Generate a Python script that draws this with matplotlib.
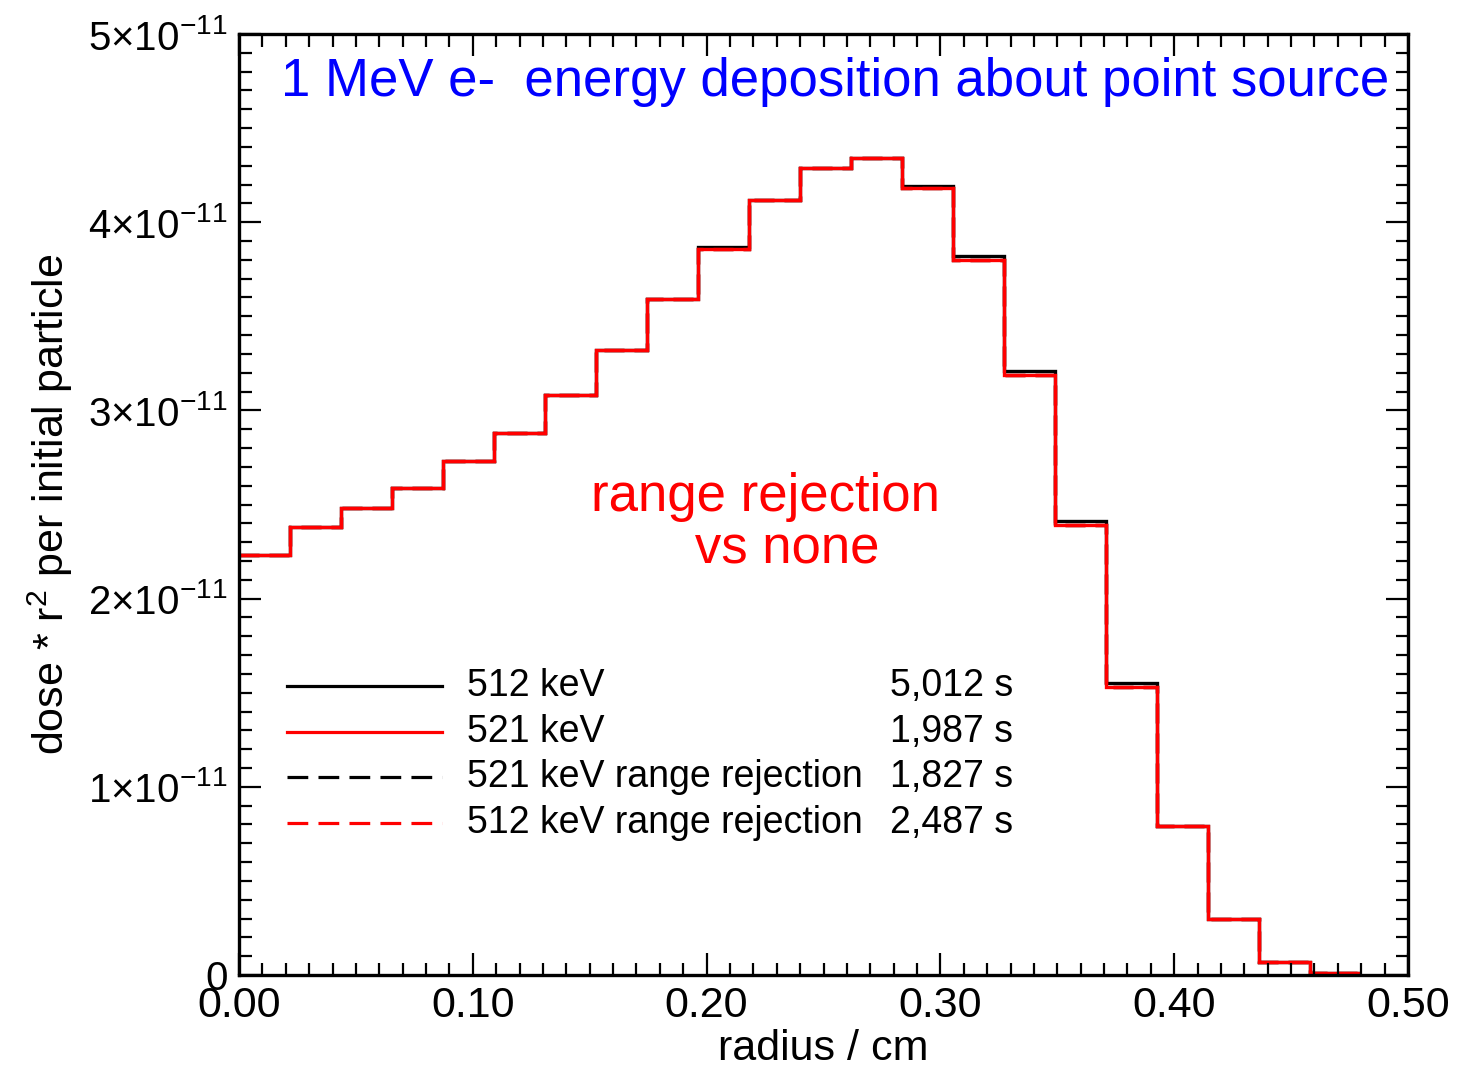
import numpy as np
import matplotlib
matplotlib.use('Agg')
import matplotlib.pyplot as plt
from matplotlib.ticker import MultipleLocator, FixedLocator

plt.rcParams['font.family'] = ['Liberation Sans', 'DejaVu Sans']
plt.rcParams['mathtext.fontset'] = 'custom'
plt.rcParams['mathtext.rm'] = 'Liberation Sans'
plt.rcParams['mathtext.it'] = 'Liberation Sans'

# bin edges (cm), 22 bins
bin_width = 0.02182
n_bins = 22

# dose*r^2 per initial particle, units of 1e-11
dose_512 = [2.23, 2.38, 2.48, 2.59, 2.73, 2.88, 3.08, 3.32, 3.59, 3.87, 4.12,
            4.29, 4.34, 4.19, 3.82, 3.21, 2.41, 1.55, 0.79, 0.30, 0.07, 0.01]
dose_521 = [2.23, 2.38, 2.48, 2.59, 2.73, 2.88, 3.08, 3.32, 3.59, 3.86, 4.12,
            4.29, 4.34, 4.18, 3.80, 3.19, 2.39, 1.53, 0.79, 0.30, 0.07, 0.01]
dose_521_rr = [2.23, 2.38, 2.48, 2.59, 2.73, 2.88, 3.08, 3.32, 3.59, 3.86, 4.12,
               4.29, 4.34, 4.18, 3.80, 3.19, 2.39, 1.53, 0.79, 0.30, 0.07, 0.01]
dose_512_rr = [2.23, 2.38, 2.48, 2.59, 2.73, 2.88, 3.08, 3.32, 3.59, 3.86, 4.12,
               4.29, 4.34, 4.18, 3.80, 3.19, 2.39, 1.53, 0.79, 0.30, 0.07, 0.01]

labels = ['512 keV', '521 keV', '521 keV range rejection', '512 keV range rejection']
times = ['5,012 s', '1,987 s', '1,827 s', '2,487 s']

edges = np.arange(n_bins + 1) * bin_width

fig = plt.figure(figsize=(14.59, 10.67), dpi=100)
ax = fig.add_axes([239/1459, 1-975/1067, (1408-239)/1459, (975-34)/1067])

series = [(dose_512, 'black', '-'), (dose_521_rr, 'black', (0, (6, 3))),
          (dose_521, 'red', '-'), (dose_512_rr, 'red', (0, (6, 3)))]
for d, c, ls in series:
    y = np.array(d) * 1e-11
    ax.stairs(y, edges, color=c, lw=2.4, linestyle=ls, baseline=None)

ax.set_xlim(0, 0.5)
ax.set_ylim(0, 5e-11)

ax.xaxis.set_minor_locator(MultipleLocator(0.01))
ax.yaxis.set_minor_locator(MultipleLocator(0.1e-11))
ax.xaxis.set_major_locator(FixedLocator([0, 0.1, 0.2, 0.3, 0.4, 0.5]))
ax.set_xticklabels(['0.00', '0.10', '0.20', '0.30', '0.40', '0.50'])
ax.yaxis.set_major_locator(FixedLocator([0, 1e-11, 2e-11, 3e-11, 4e-11, 5e-11]))
ax.set_yticklabels(['0'] + [r'%d$\times$10$^{-11}$' % k for k in range(1, 6)])

ax.tick_params(which='both', direction='in', top=True, right=True, width=1.6)
ax.tick_params(which='major', length=16, pad=8)
ax.tick_params(which='minor', length=9)
ax.tick_params(axis='x', labelsize=31)
ax.tick_params(axis='y', labelsize=29)
for s in ax.spines.values():
    s.set_linewidth(2.4)

ax.set_xlabel('radius / cm', fontsize=31, labelpad=2)
ax.set_ylabel(r'dose * r$^{2}$ per initial particle', fontsize=31, labelpad=10)

ax.text(0.51, 0.949, '1 MeV e-  energy deposition about point source',
        transform=ax.transAxes, ha='center', va='center', color='blue', fontsize=38)
ax.text(0.45, 0.48, 'range rejection\n   vs none', transform=ax.transAxes,
        ha='center', va='center', color='red', fontsize=38, linespacing=1.05)

# legend drawn by hand to match layout
for i, ((d, c, ls), lab, t) in enumerate(zip(
        [series[0], series[2], series[1], series[3]], labels, times)):
    yy = 0.307 - i * 0.0485
    ax.plot([0.041, 0.174], [yy, yy], transform=ax.transAxes, color=c, lw=2.3,
            linestyle=ls if ls == '-' else (0, (6.5, 3.2)))
    ax.text(0.195, yy, lab, transform=ax.transAxes, ha='left', va='center', fontsize=27)
    ax.text(0.662, yy, t, transform=ax.transAxes, ha='right', va='center', fontsize=27)

fig.savefig('out.png', dpi=100)
